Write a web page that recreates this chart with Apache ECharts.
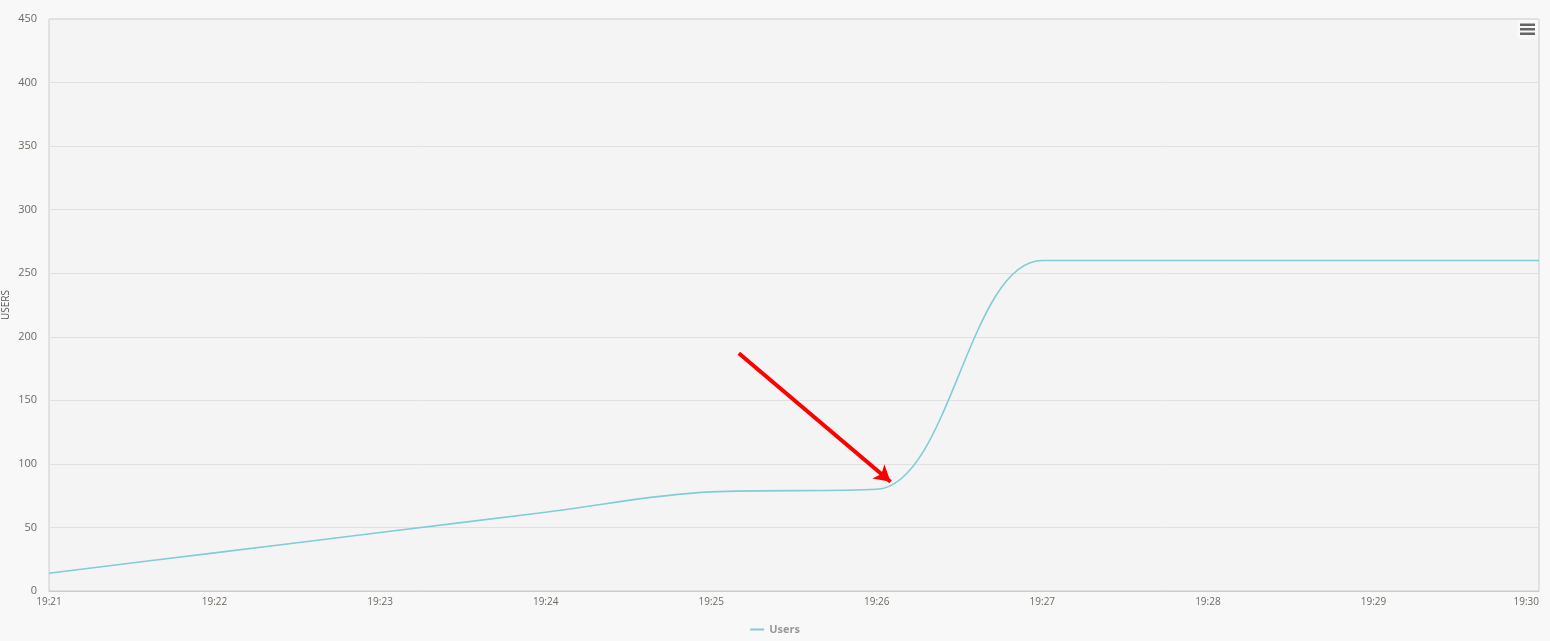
<!DOCTYPE html>
<html>
<head>
<meta charset="utf-8">
<script src="https://cdn.jsdelivr.net/npm/echarts@6/dist/echarts.min.js"></script>
<style>
html,body{margin:0;padding:0;background:#f8f8f8;}
#chart{width:1550px;height:641px;}
</style>
</head>
<body>
<div id="chart"></div>
<script>
const day = '2015-01-01 ';
const times = ['19:21','19:22','19:23','19:24','19:25','19:26','19:27','19:28','19:29','19:30'];
const users = [14, 30, 46, 62, 78, 80, 260, 260, 260, 260];
const yTicks = {min: 0, max: 450, interval: 50};
const arrowFrom = ['19:25:10', 187];
const arrowTo = ['19:26:05', 86];

const t = s => new Date((day + s).replace(' ', 'T')).getTime();
const seriesData = times.map((s, i) => [t(s), users[i]]);

const chart = echarts.init(document.getElementById('chart'));
chart.setOption({
  backgroundColor: '#f8f8f8',
  animation: false,
  grid: {left: 49, right: 11, top: 19, bottom: 50, show: true, containLabel: false,
    outerBoundsMode: 'none',
    backgroundColor: '#f4f4f4', borderColor: '#cccccc', borderWidth: 1},
  xAxis: {
    type: 'time', min: t(times[0]), max: t(times[times.length - 1]), interval: 60000,
    axisLine: {show: true, lineStyle: {color: '#cccccc'}},
    axisTick: {show: false},
    splitLine: {show: false},
    axisLabel: {formatter: '{HH}:{mm}', color: '#6e6a63', fontSize: 10, margin: 6,
      fontFamily: 'Open Sans, sans-serif', showMinLabel: true, showMaxLabel: true,
      alignMaxLabel: 'right'}
  },
  yAxis: {
    type: 'value', min: yTicks.min, max: yTicks.max, interval: yTicks.interval,
    name: 'USERS', nameLocation: 'middle', nameGap: 38, nameRotate: 90,
    nameMoveOverlap: false,
    nameTextStyle: {color: '#555', fontSize: 10, fontFamily: 'Open Sans, sans-serif'},
    axisLine: {show: false}, axisTick: {show: false},
    splitLine: {lineStyle: {color: '#e0e0e0'}},
    axisLabel: {color: '#6e6a63', fontSize: 11, margin: 12, fontFamily: 'Open Sans, sans-serif'}
  },
  legend: {
    bottom: 1, left: 'center', icon: 'rect', itemWidth: 14, itemHeight: 2,
    textStyle: {color: '#999', fontWeight: 'bold', fontSize: 11, fontFamily: 'Open Sans, sans-serif'},
    data: ['Users']
  },
  series: [{
    name: 'Users', type: 'line', smooth: 0.35,
    showSymbol: false, symbol: 'none',
    lineStyle: {color: '#80cdd5', width: 1.6},
    itemStyle: {color: '#80cdd5'},
    data: seriesData,
    markLine: {
      silent: true, symbol: ['none', 'arrow'], symbolSize: [14, 16],
      lineStyle: {color: '#ff0000', width: 4, type: 'solid'},
      label: {show: false},
      data: [[{coord: [t(arrowFrom[0]), arrowFrom[1]]}, {coord: [t(arrowTo[0]), arrowTo[1]]}]]
    }
  }],
  graphic: [{
    type: 'group', right: 12, top: 20,
    children: [
      {type: 'rect', shape: {x: 0, y: 0, width: 21, height: 19, r: 3}, style: {fill: '#f9f9f9'}},
      {type: 'rect', shape: {x: 3, y: 3.5, width: 15, height: 2.5}, style: {fill: '#666'}},
      {type: 'rect', shape: {x: 3, y: 8, width: 15, height: 2.5}, style: {fill: '#666'}},
      {type: 'rect', shape: {x: 3, y: 12.5, width: 15, height: 2.5}, style: {fill: '#666'}}
    ]
  }]
});
</script>
</body>
</html>
